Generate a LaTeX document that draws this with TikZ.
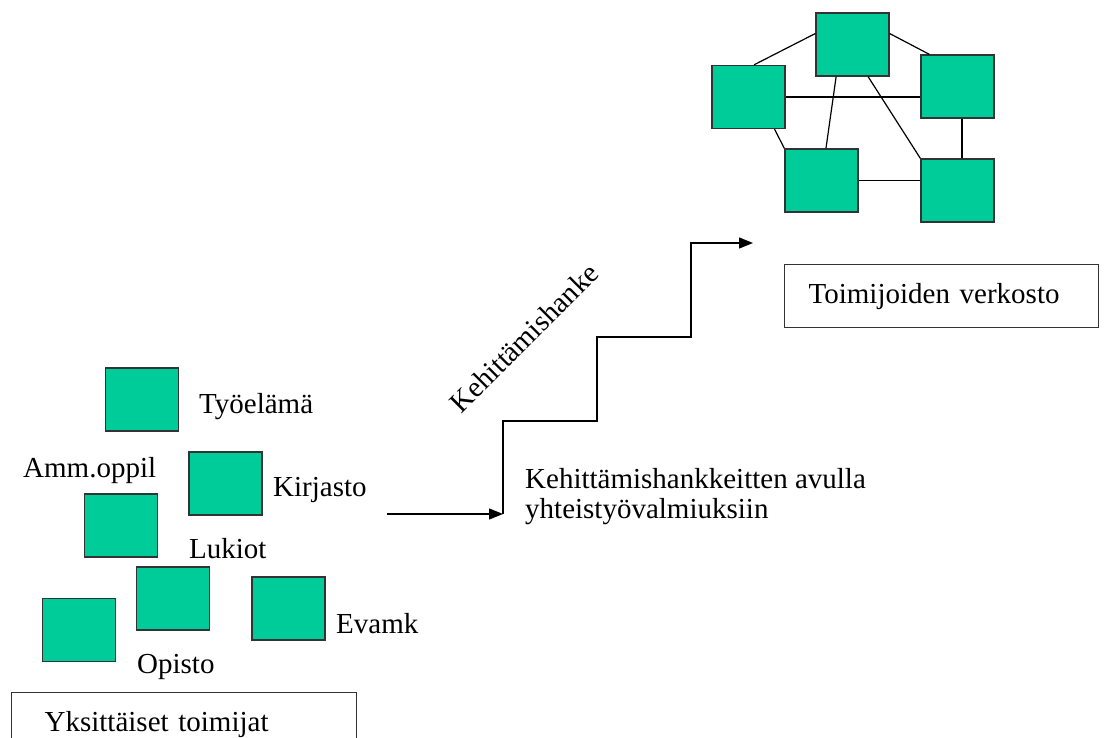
\documentclass[tikz,border=0pt]{standalone}
\usepackage{fontspec}
\setmainfont{Liberation Serif}
\usetikzlibrary{arrows.meta,calc}
\definecolor{tealfill}{HTML}{00CC99}
\definecolor{edgegray}{HTML}{333333}
\begin{document}
\begin{tikzpicture}[x=1pt,y=-1pt,
  gbox/.style={draw=edgegray, line width=1.4pt, fill=tealfill, minimum width=73pt, minimum height=63pt, inner sep=0pt},
  lbl/.style={font=\fontsize{29}{30}\selectfont, inner sep=0pt, anchor=base west},
  conn/.style={line width=1.2pt, black},
  arr/.style={line width=1.3pt, black, -{Triangle[length=14pt,width=11pt]}},
  tbox/.style={draw=edgegray, line width=1.3pt, anchor=north west, minimum height=63pt, align=left, font=\fontsize{29}{30}\selectfont, inner ysep=0pt}]
\useasboundingbox (0,0) rectangle (1104,738);

% ---- network (top right)
\node[gbox] (T)  at (852.5,44.5) {};
\node[gbox] (L)  at (748.5,97) {};
\node[gbox] (R)  at (957.5,86.5) {};
\node[gbox] (BL) at (821.5,180.5) {};
\node[gbox] (BR) at (957.5,190.5) {};

\draw[conn] ($(T.north west)!0.33!(T.south west)$) -- ($(L.north west)!0.575!(L.north east)$);
\draw[conn] ($(T.north east)!0.33!(T.south east)$) -- ($(R.north west)!0.12!(R.north east)$);
\draw[conn] (L.east) -- (L.east -| R.west);
\draw[conn] ($(T.south west)!0.28!(T.south east)$) -- ($(BL.north west)!0.56!(BL.north east)$);
\draw[conn] ($(T.south west)!0.71!(T.south east)$) -- (BR.north west);
\draw[conn] ($(L.south west)!0.85!(L.south east)$) -- (BL.north west);
\draw[conn] ($(R.south west)!0.56!(R.south east)$) -- ($(BR.north west)!0.56!(BR.north east)$);
\draw[conn] (BL.east) -- (BL.east -| BR.west);

\node[tbox, minimum width=314pt, text width=266pt, inner xsep=24pt] (net) at (784,264) {Toimijoiden verkosto};

% ---- individual actors (bottom left)
\node[gbox] (ty) at (142,399.5) {};
\node[gbox] (ki) at (225.5,483.5) {};
\node[gbox] (am) at (121,525.5) {};
\node[gbox] (lu) at (173,598.5) {};
\node[gbox] (op) at (79,630) {};
\node[gbox] (ev) at (288.5,608.5) {};

\node[lbl] (tyl) at (199,413) {Työelämä};
\node[lbl] (aml) at (23,477) {Amm.oppil};
\node[lbl] (kil) at (273,496) {Kirjasto};
\node[lbl] (lul) at (189,558) {Lukiot};
\node[lbl] (evl) at (336,633) {Evamk};
\node[lbl] (opl) at (137,673) {Opisto};

\node[tbox, minimum width=345pt, text width=279pt, inner xsep=33pt] (ind) at (11,692) {Yksittäiset toimijat};

% ---- staircase arrow
\coordinate (a0) at (387,514);
\coordinate (c0) at (503,514);
\coordinate (s1) at (597,421);
\coordinate (s2) at (691,337);
\coordinate (e0) at (753,243);
\draw[arr] (a0) -- (c0);
\draw[arr] (c0) |- (s1) |- (s2) |- (e0);

\node[lbl, anchor=center, rotate=45] (kh) at (524,338) {Kehittämishanke};
\node[lbl, anchor=north west, align=left] (kha) at (525,468) {Kehittämishankkeitten avulla\\yhteistyövalmiuksiin};
\end{tikzpicture}
\end{document}
